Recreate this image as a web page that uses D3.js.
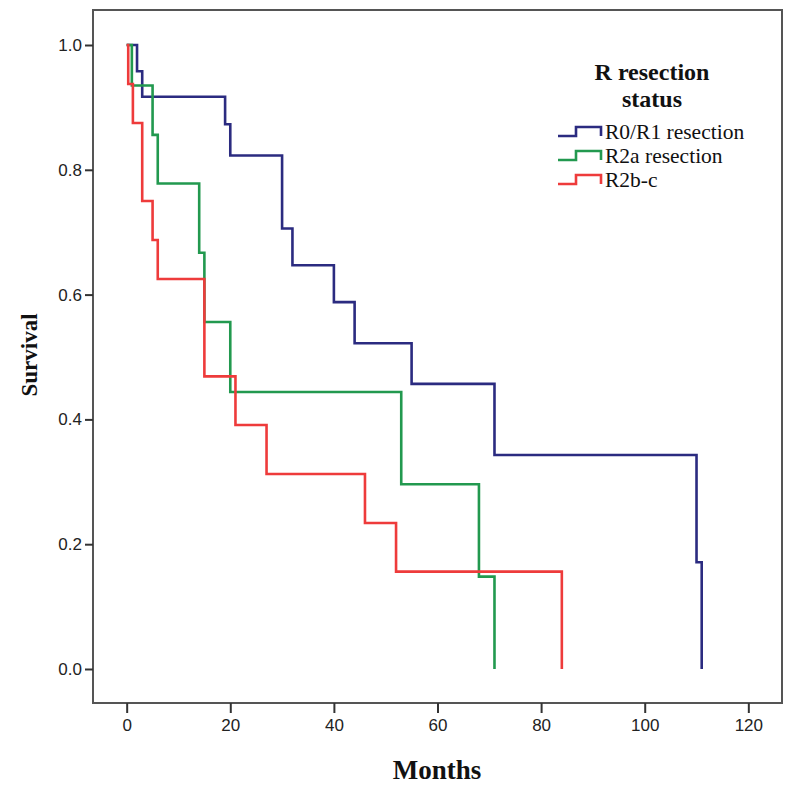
<!DOCTYPE html>
<html>
<head>
<meta charset="utf-8">
<script src="https://cdn.jsdelivr.net/npm/d3@7"></script>
<style>
  body { margin: 0; background: #fff; }
  svg { display: block; }
</style>
</head>
<body>
<svg id="chart" width="800" height="785"></svg>
<script>
'use strict';
// Kaplan-Meier steps: [month, survival]
var r0r1Steps = [[0, 1], [2, 0.958], [3, 0.917], [19, 0.873], [20, 0.823], [30, 0.706], [32, 0.647],
    [40, 0.588], [44, 0.522], [55, 0.457], [71, 0.343], [110, 0.171], [111, 0]];
var r2aSteps = [[0, 1], [1, 0.935], [5, 0.856], [6, 0.778], [14, 0.667], [15, 0.556], [20, 0.444],
    [53, 0.296], [68, 0.148], [71, 0]];
var r2bcSteps = [[0, 1], [0.3, 0.9375], [1.2, 0.875], [3, 0.75], [5, 0.6875], [6, 0.625], [15, 0.469],
    [21, 0.391], [27, 0.3125], [46, 0.234], [52, 0.156], [84, 0]];

var seriesNames = ['R0/R1 resection', 'R2a resection', 'R2b-c'];
var seriesColors = ['#2b2b80', '#22994f', '#ee3b3b'];
var xTicks = [0, 20, 40, 60, 80, 100, 120];
var yTicks = [0, 0.2, 0.4, 0.6, 0.8, 1.0];
var legendTitle = ['R resection', 'status'];

var svg = d3.select('#chart');

// frame is 93..782 x 10..703 in pixels
var x = d3.scaleLinear().domain([-6.5, 126.5]).range([93, 782]);
var y = d3.scaleLinear().domain([-0.0545, 1.0561]).range([703, 10]);

var frameColor = '#555';
var serif = '"Liberation Serif", "Times New Roman", serif';

// plot frame
svg.append('rect')
    .attr('x', x.range()[0])
    .attr('y', y.range()[1])
    .attr('width', x.range()[1] - x.range()[0])
    .attr('height', y.range()[0] - y.range()[1])
    .style('fill', 'none')
    .style('stroke', frameColor)
    .style('stroke-width', 2);

// axes: ticks point outwards, no domain path (the frame draws it)
var xAxis = d3.axisBottom(x).tickValues(xTicks).tickFormat(d3.format('d')).tickSize(10).tickPadding(6);
var yAxis = d3.axisLeft(y).tickValues(yTicks).tickFormat(d3.format('.1f')).tickSize(8).tickPadding(3);

var gx = svg.append('g').attr('transform', 'translate(0,' + y.range()[0] + ')').call(xAxis);
var gy = svg.append('g').attr('transform', 'translate(' + x.range()[0] + ',0)').call(yAxis);

[gx, gy].forEach(function(g) {
    g.select('.domain').remove();
    g.selectAll('.tick line').style('stroke', '#333').style('stroke-width', 2);
    g.selectAll('.tick text')
        .style('font-family', '"Liberation Sans", Arial, sans-serif')
        .style('font-size', '17px')
        .style('fill', '#222');
});

// axis titles
svg.append('text')
    .attr('x', 437)
    .attr('y', 779)
    .attr('text-anchor', 'middle')
    .style('font-family', serif)
    .style('font-weight', 'bold')
    .style('font-size', '27px')
    .style('fill', '#111')
    .text('Months');

svg.append('text')
    .attr('transform', 'translate(37,355) rotate(-90)')
    .attr('text-anchor', 'middle')
    .style('font-family', serif)
    .style('font-weight', 'bold')
    .style('font-size', '23px')
    .style('fill', '#111')
    .text('Survival');

// survival curves
var line = d3.line()
    .x(function(d) { return x(d[0]); })
    .y(function(d) { return y(d[1]); })
    .curve(d3.curveStepAfter);

var allSeries = [r0r1Steps, r2aSteps, r2bcSteps];
svg.append('g').selectAll('path.km')
    .data(allSeries)
    .enter().append('path')
    .attr('class', 'km')
    .attr('d', line)
    .style('fill', 'none')
    .style('stroke', function(d, i) { return seriesColors[i]; })
    .style('stroke-width', 2.6);

// legend
var legend = svg.append('g').attr('class', 'legend');
legend.selectAll('text.title')
    .data(legendTitle)
    .enter().append('text')
    .attr('class', 'title')
    .attr('x', 652)
    .attr('y', function(d, i) { return 80 + i * 27; })
    .attr('text-anchor', 'middle')
    .style('font-family', serif)
    .style('font-weight', 'bold')
    .style('font-size', '24px')
    .style('fill', '#111')
    .text(function(d) { return d; });

var rows = legend.selectAll('g.row')
    .data(seriesNames)
    .enter().append('g')
    .attr('class', 'row')
    .attr('transform', function(d, i) { return 'translate(558,' + (132 + i * 24) + ')'; });

rows.append('polyline')
    .attr('points', '0,4 18,4 18,-5 43,-5 43,4')
    .style('fill', 'none')
    .style('stroke', function(d, i) { return seriesColors[i]; })
    .style('stroke-width', 2.6);

rows.append('text')
    .attr('x', 47)
    .attr('y', 7)
    .style('font-family', serif)
    .style('font-size', '21.5px')
    .style('fill', '#111')
    .text(function(d) { return d; });
</script>
</body>
</html>
